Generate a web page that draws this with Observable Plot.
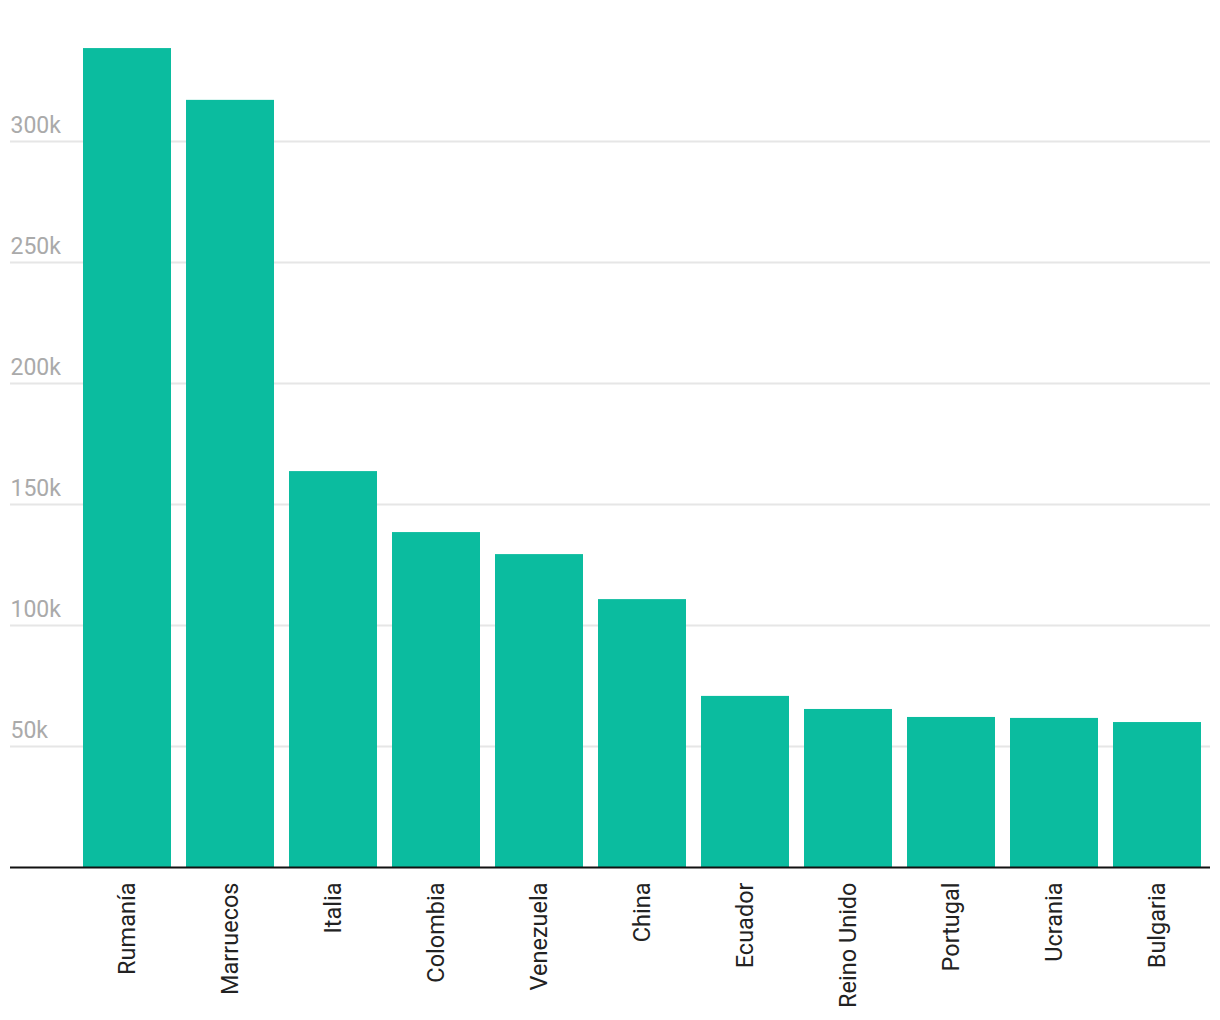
<!DOCTYPE html>
<html>
<head>
<meta charset="utf-8">
<script src="https://cdn.jsdelivr.net/npm/d3@7"></script>
<script src="https://cdn.jsdelivr.net/npm/@observablehq/plot@0.6"></script>
<style>
  html, body { margin: 0; padding: 0; background: #fff; }
  #chart { width: 1220px; height: 1020px; }
</style>
</head>
<body>
<div id="chart"></div>
<script>
const countries = ["Rumanía", "Marruecos", "Italia", "Colombia", "Venezuela", "China", "Ecuador", "Reino Unido", "Portugal", "Ucrania", "Bulgaria"];
const residents = [338400, 317000, 163600, 138400, 129300, 110700, 70700, 65300, 62000, 61600, 59900];
const yTicks = [50000, 100000, 150000, 200000, 250000, 300000];
const yTickLabels = ["50k", "100k", "150k", "200k", "250k", "300k"];

const data = countries.map((c, i) => ({country: c, value: residents[i]}));
const tickData = yTicks.map((v, i) => ({v, label: yTickLabels[i]}));

const chart = Plot.plot({
  width: 1220,
  height: 1020,
  marginLeft: 10,
  marginRight: 10,
  marginTop: 20,
  marginBottom: 153,
  style: {fontFamily: "Roboto, sans-serif", background: "#fff"},
  x: {domain: countries, range: [82, 1202], paddingInner: 0.15, paddingOuter: 0, label: null},
  y: {domain: [0, 350000], label: null, axis: null},
  marks: [
    Plot.ruleY(yTicks, {stroke: "#e6e6e6", strokeWidth: 2}),
    Plot.text(tickData, {y: "v", text: "label", frameAnchor: "left", textAnchor: "start", fill: "#aaaaaa", fontSize: 23, dy: -16}),
    Plot.barY(data, {x: "country", y: "value", fill: "#0bbc9f"}),
    Plot.ruleY([0], {stroke: "#111", strokeWidth: 2}),
    Plot.axisX({tickSize: 0, tickPadding: 15, tickRotate: -90, fontSize: 23.5, color: "#222", label: null})
  ]
});
document.getElementById("chart").appendChild(chart);
</script>
</body>
</html>
